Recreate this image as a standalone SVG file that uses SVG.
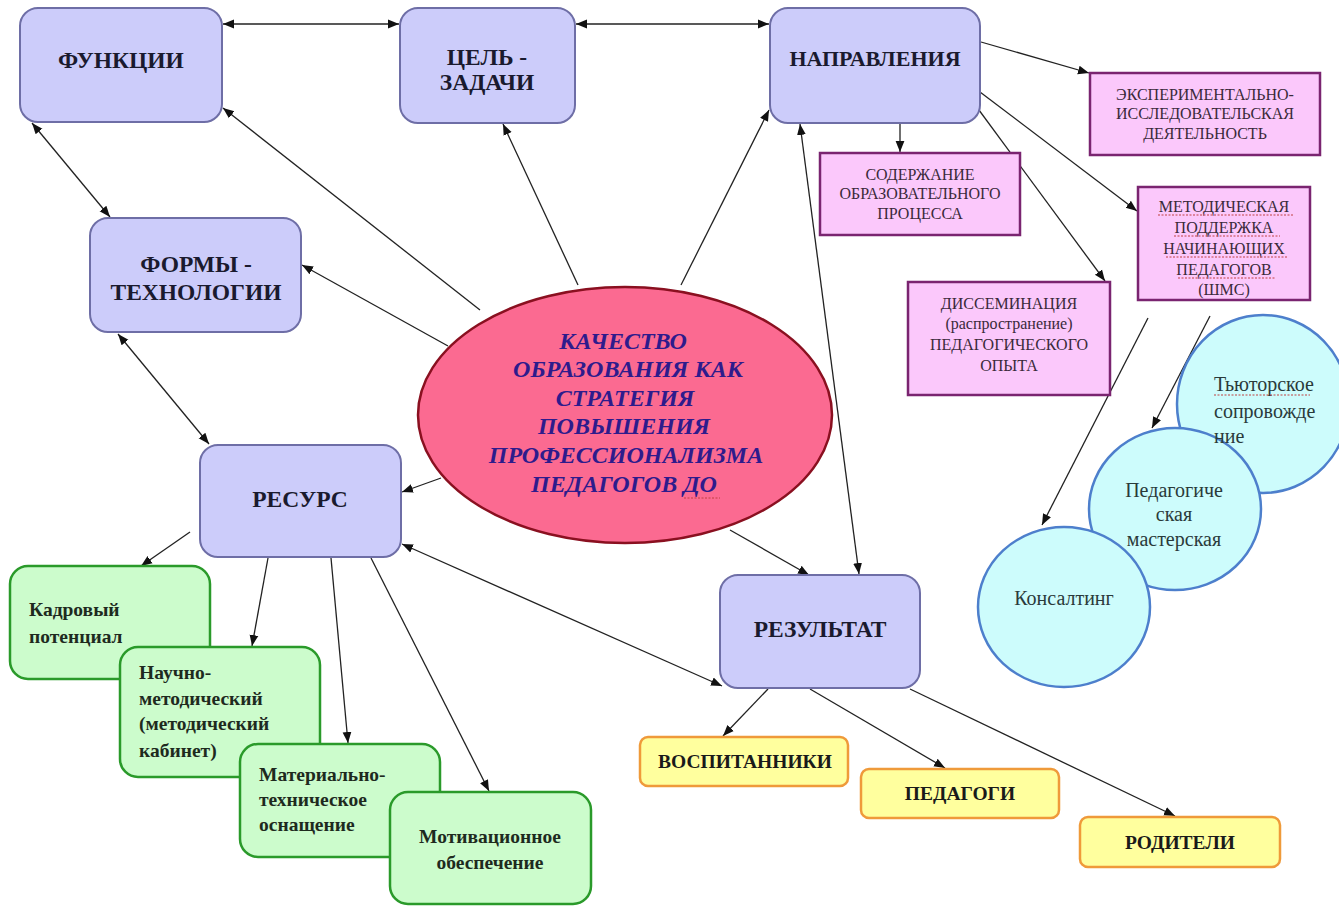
<svg xmlns="http://www.w3.org/2000/svg" width="1339" height="906" viewBox="0 0 1339 906" font-family="Liberation Serif, serif">
<defs>
<marker id="ah" viewBox="0 0 10 10" refX="10" refY="5" markerWidth="11" markerHeight="11" markerUnits="userSpaceOnUse" orient="auto-start-reverse">
<path d="M0,1 L10,5 L0,9 z" fill="#111"/>
</marker>
<style>
.blue{fill:#ccccfa;stroke:#6e6ea6;stroke-width:2}
.pink{fill:#fbc8fb;stroke:#7a2470;stroke-width:2.5}
.green{fill:#ccfccc;stroke:#2a9a2a;stroke-width:2.5}
.yellow{fill:#ffff9e;stroke:#ef9a3a;stroke-width:2.5}
.circ{fill:#cdfcfc;stroke:#4d7fcc;stroke-width:2.5}
.bt{font-weight:bold;font-size:23.5px;fill:#1a1a2e;text-anchor:middle}
.pt{font-size:16px;fill:#3a2a3a;text-anchor:middle}
.gt{font-weight:bold;font-size:19.5px;fill:#1e2a1e}
.yt{font-weight:bold;font-size:19.5px;fill:#1a1a1a;text-anchor:middle}
.ct{font-size:20px;fill:#2a3a3a}
.et{font-weight:bold;font-style:italic;font-size:24px;fill:#2e1b8c;text-anchor:middle}
.ln{stroke:#222;stroke-width:1.3;fill:none}
.a{marker-end:url(#ah)}
.b{marker-start:url(#ah);marker-end:url(#ah)}
.sp{stroke:#c04040;stroke-width:1;stroke-dasharray:2 1.5;fill:none}
</style>
</defs>
<rect width="1339" height="906" fill="#ffffff"/>

<g id="connectors">
<line class="ln b" x1="223" y1="24" x2="399" y2="24"/>
<line class="ln b" x1="576" y1="24" x2="769" y2="24"/>
<line class="ln b" x1="32" y1="123" x2="110" y2="217"/>
<line class="ln b" x1="118" y1="334" x2="209" y2="444"/>
<line class="ln a" x1="480" y1="310" x2="223" y2="108"/>
<line class="ln a" x1="578" y1="285" x2="503" y2="124"/>
<line class="ln a" x1="681" y1="285" x2="769" y2="110"/>
<line class="ln a" x1="448" y1="346" x2="302" y2="265"/>
<line class="ln a" x1="441" y1="478" x2="402" y2="492"/>
<line class="ln a" x1="730" y1="530" x2="809" y2="575"/>
<line class="ln b" x1="800" y1="124" x2="859" y2="574"/>
<line class="ln b" x1="722" y1="686" x2="402" y2="544"/>
<line class="ln a" x1="981" y1="42" x2="1089" y2="73"/>
<line class="ln a" x1="900" y1="124" x2="900" y2="152"/>
<line class="ln a" x1="980" y1="92" x2="1137" y2="211"/>
<line class="ln a" x1="976" y1="106" x2="1105" y2="281"/>
<line class="ln a" x1="1148" y1="318" x2="1042" y2="525"/>
<line class="ln a" x1="1210" y1="316" x2="1152" y2="428"/>
<line class="ln a" x1="1268" y1="318" x2="1259" y2="331"/>
<line class="ln a" x1="190" y1="532" x2="141" y2="566"/>
<line class="ln a" x1="268" y1="558" x2="252" y2="646"/>
<line class="ln a" x1="331" y1="558" x2="348" y2="743"/>
<line class="ln a" x1="371" y1="558" x2="489" y2="791"/>
<line class="ln a" x1="768" y1="689" x2="723" y2="736"/>
<line class="ln a" x1="810" y1="689" x2="945" y2="768"/>
<line class="ln a" x1="910" y1="689" x2="1175" y2="816"/>
</g>

<g id="funkcii">
<rect class="blue" x="20" y="8" width="202" height="114" rx="18"/>
<text class="bt" x="121" y="68">ФУНКЦИИ</text>
</g>
<g id="cel">
<rect class="blue" x="400" y="8" width="175" height="115" rx="18"/>
<text class="bt" x="487" y="65">ЦЕЛЬ -</text>
<text class="bt" x="487" y="90">ЗАДАЧИ</text>
</g>
<g id="napravleniya">
<rect class="blue" x="770" y="8" width="210" height="115" rx="18"/>
<text class="bt" x="875" y="66" style="font-size:22px">НАПРАВЛЕНИЯ</text>
</g>
<g id="formy">
<rect class="blue" x="90" y="218" width="211" height="114" rx="18"/>
<text class="bt" x="196" y="272">ФОРМЫ -</text>
<text class="bt" x="196" y="300">ТЕХНОЛОГИИ</text>
</g>
<g id="resurs">
<rect class="blue" x="200" y="445" width="201" height="112" rx="18"/>
<text class="bt" x="300" y="507">РЕСУРС</text>
</g>
<g id="rezultat">
<rect class="blue" x="720" y="575" width="200" height="113" rx="18"/>
<text class="bt" x="820" y="637">РЕЗУЛЬТАТ</text>
</g>

<g id="center">
<ellipse cx="625" cy="415" rx="207" ry="128" fill="#fb6a91" stroke="#8a1020" stroke-width="2.5"/>
<text class="et" x="623" y="349">КАЧЕСТВО</text>
<text class="et" x="628" y="377">ОБРАЗОВАНИЯ КАК</text>
<text class="et" x="625" y="406">СТРАТЕГИЯ</text>
<text class="et" x="624" y="434">ПОВЫШЕНИЯ</text>
<text class="et" x="626" y="463">ПРОФЕССИОНАЛИЗМА</text>
<text class="et" x="624" y="492">ПЕДАГОГОВ ДО</text>
<path class="sp" d="M684,498 L720,498"/>
</g>

<g id="eksperiment">
<rect class="pink" x="1090" y="73" width="230" height="82"/>
<text class="pt" x="1205" y="100">ЭКСПЕРИМЕНТАЛЬНО-</text>
<text class="pt" x="1205" y="119">ИССЛЕДОВАТЕЛЬСКАЯ</text>
<text class="pt" x="1205" y="139">ДЕЯТЕЛЬНОСТЬ</text>
</g>
<g id="soderzhanie">
<rect class="pink" x="820" y="153" width="200" height="82"/>
<text class="pt" x="920" y="180">СОДЕРЖАНИЕ</text>
<text class="pt" x="920" y="199">ОБРАЗОВАТЕЛЬНОГО</text>
<text class="pt" x="920" y="219">ПРОЦЕССА</text>
</g>
<g id="metodicheskaya">
<rect class="pink" x="1138" y="187" width="172" height="113"/>
<text class="pt" x="1224" y="212">МЕТОДИЧЕСКАЯ</text>
<text class="pt" x="1224" y="233">ПОДДЕРЖКА</text>
<text class="pt" x="1224" y="254">НАЧИНАЮЩИХ</text>
<text class="pt" x="1224" y="275">ПЕДАГОГОВ</text>
<text class="pt" x="1224" y="295">(ШМС)</text>
<path class="sp" d="M1158,215 L1294,215 M1174,236 L1280,236 M1166,257 L1288,257 M1178,278 L1276,278"/>
</g>
<g id="disseminaciya">
<rect class="pink" x="908" y="282" width="202" height="113"/>
<text class="pt" x="1009" y="309">ДИССЕМИНАЦИЯ</text>
<text class="pt" x="1009" y="329">(распространение)</text>
<text class="pt" x="1009" y="350">ПЕДАГОГИЧЕСКОГО</text>
<text class="pt" x="1009" y="371">ОПЫТА</text>
</g>

<g id="tyutorskoe">
<ellipse class="circ" cx="1263" cy="404" rx="86" ry="89"/>
</g>
<g id="masterskaya">
<ellipse class="circ" cx="1175" cy="509" rx="86" ry="81"/>
<text class="ct" x="1174" y="497" text-anchor="middle">Педагогиче</text>
<text class="ct" x="1174" y="521" text-anchor="middle">ская</text>
<text class="ct" x="1174" y="546" text-anchor="middle">мастерская</text>
</g>
<g id="tyutorskoe-label">
<text class="ct" x="1214" y="391">Тьюторское</text>
<text class="ct" x="1214" y="418">сопровожде</text>
<text class="ct" x="1214" y="443">ние</text>
<path class="sp" d="M1214,395 L1310,395"/>
</g>
<g id="konsalting">
<ellipse class="circ" cx="1064" cy="607" rx="86" ry="80"/>
<text class="ct" x="1064" y="605" text-anchor="middle">Консалтинг</text>
</g>

<g id="kadrovyi">
<rect class="green" x="10" y="566" width="200" height="113" rx="18"/>
<text class="gt" x="29" y="616">Кадровый</text>
<text class="gt" x="29" y="643">потенциал</text>
</g>
<g id="nauchno">
<rect class="green" x="120" y="647" width="200" height="130" rx="18"/>
<text class="gt" x="139" y="679">Научно-</text>
<text class="gt" x="139" y="705">методический</text>
<text class="gt" x="139" y="730">(методический</text>
<text class="gt" x="139" y="757">кабинет)</text>
</g>
<g id="materialno">
<rect class="green" x="240" y="744" width="200" height="113" rx="18"/>
<text class="gt" x="259" y="781">Материально-</text>
<text class="gt" x="259" y="806">техническое</text>
<text class="gt" x="259" y="831">оснащение</text>
</g>
<g id="motivacionnoe">
<rect class="green" x="390" y="792" width="201" height="112" rx="18"/>
<text class="gt" x="490" y="843" text-anchor="middle">Мотивационное</text>
<text class="gt" x="490" y="869" text-anchor="middle">обеспечение</text>
</g>

<g id="vospitanniki">
<rect class="yellow" x="640" y="737" width="208" height="49" rx="8"/>
<text class="yt" x="745" y="768">ВОСПИТАННИКИ</text>
</g>
<g id="pedagogi">
<rect class="yellow" x="861" y="769" width="198" height="49" rx="8"/>
<text class="yt" x="960" y="800">ПЕДАГОГИ</text>
</g>
<g id="roditeli">
<rect class="yellow" x="1080" y="817" width="200" height="50" rx="8"/>
<text class="yt" x="1180" y="849">РОДИТЕЛИ</text>
</g>
</svg>
